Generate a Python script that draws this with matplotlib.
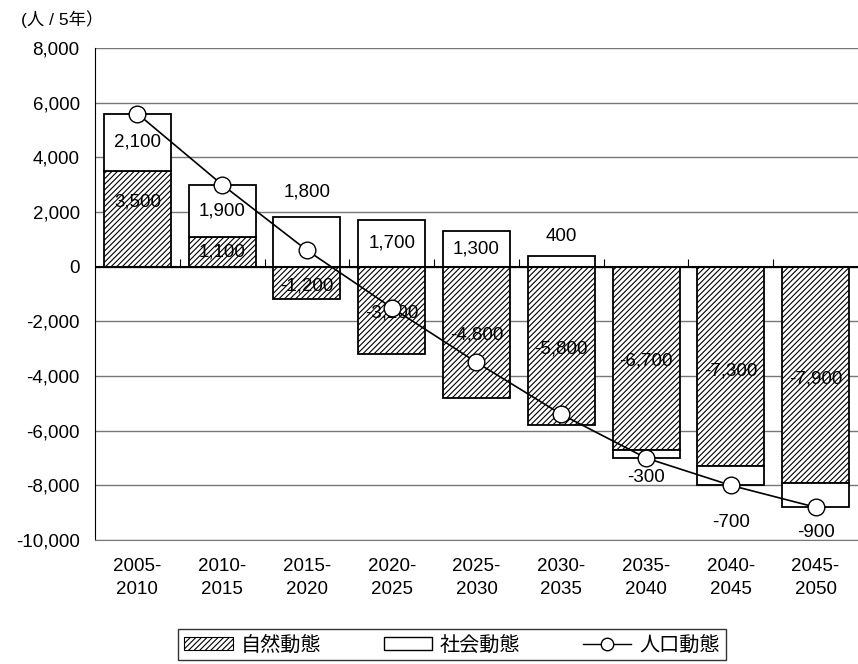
import numpy as np
import matplotlib.pyplot as plt
from matplotlib.patches import Patch
from matplotlib.lines import Line2D

plt.rcParams['font.family'] = ['Liberation Sans', 'Noto Sans CJK JP', 'DejaVu Sans']
plt.rcParams['hatch.linewidth'] = 0.8

periods = ['2005-\n2010', '2010-\n2015', '2015-\n2020', '2020-\n2025', '2025-\n2030',
           '2030-\n2035', '2035-\n2040', '2040-\n2045', '2045-\n2050']
natural = [3500, 1100, -1200, -3200, -4800, -5800, -6700, -7300, -7900]
social = [2100, 1900, 1800, 1700, 1300, 400, -300, -700, -900]
total = [5600, 3000, 600, -1500, -3500, -5400, -7000, -8000, -8800]

# label placement (styling): social label inside bar or outside, offsets in points
social_pos = ['in', 'in', 'out', 'in', 'in', 'out', 'out', 'out', 'out']
social_dy = [0, 0, 18, 0, 0, 14, -14, -27, -18]
natural_dy = [12, 0, -2, -2, -2, -2, -2, -3, -3]

x = np.arange(len(periods))
nat = np.array(natural)
soc = np.array(social)
soc_bottom = np.where(np.sign(nat) == np.sign(soc), nat, 0)

fig = plt.figure(figsize=(8.58, 6.64), dpi=100)
ax = fig.add_axes([0.1107, 0.1867, 0.8893, 0.741])

fs = 13.5
ax.set_ylim(-10000, 8000)
ax.set_xlim(-0.5, len(periods) - 0.5)
ax.set_yticks(np.arange(-10000, 8001, 2000))
ax.set_yticklabels([f'{v:,}' for v in range(-10000, 8001, 2000)], fontsize=fs)
ax.yaxis.grid(True, color='#777777', lw=1)
ax.set_axisbelow(True)
ax.set_xticks(x)
ax.set_xticklabels(periods, fontsize=fs, linespacing=1.45)
ax.tick_params(axis='x', length=0, pad=13)
ax.tick_params(axis='y', length=0, pad=11)
for s in ['top', 'right']:
    ax.spines[s].set_visible(False)
ax.spines['bottom'].set_color('#777777')
ax.spines['left'].set_color('black')

w = 0.79
ax.bar(x, nat, w, color='white', edgecolor='black', hatch='//////', lw=1.3, zorder=2)
ax.bar(x, soc, w, bottom=soc_bottom, color='white', edgecolor='black', lw=1.3, zorder=2)

ax.axhline(0, color='black', lw=1.5, zorder=3)
ax.plot(x[:-1] + 0.5, np.zeros(len(x) - 1), ls='none', marker=2, ms=6, mew=0.8,
        color='black', zorder=3)

ax.plot(x, total, color='black', lw=1.2, marker='o', ms=12, mfc='white', mec='black',
        mew=1.0, zorder=5)

for i in range(len(x)):
    ax.annotate(f'{nat[i]:,}', (x[i], nat[i] / 2), xytext=(0, natural_dy[i]),
                textcoords='offset points', ha='center', va='center', fontsize=fs, zorder=4)
    if social_pos[i] == 'in':
        yy = soc_bottom[i] + soc[i] / 2
    else:
        yy = soc_bottom[i] + soc[i]
    ax.annotate(f'{soc[i]:,}', (x[i], yy), xytext=(0, social_dy[i]),
                textcoords='offset points', ha='center', va='center', fontsize=fs, zorder=4)

fig.text(0.024, 0.972, '(人 / 5年）', fontsize=12.5, va='center', ha='left')

handles = [Patch(facecolor='white', edgecolor='black', hatch='//////', lw=0.8),
           Patch(facecolor='white', edgecolor='black', lw=1.0),
           Line2D([0], [0], color='black', lw=1, marker='o', ms=9, mfc='white', mec='black')]
leg = fig.legend(handles, ['自然動態', '社会動態', '人口動態'], ncol=3, loc='center',
                 bbox_to_anchor=(0.527, 0.029), fontsize=14.5, frameon=True, fancybox=False,
                 edgecolor='black', borderpad=0.3, columnspacing=3.1, handlelength=2.4,
                 handletextpad=0.4, handleheight=0.6)
leg.get_frame().set_linewidth(1.0)

fig.savefig('out.png', dpi=100)
